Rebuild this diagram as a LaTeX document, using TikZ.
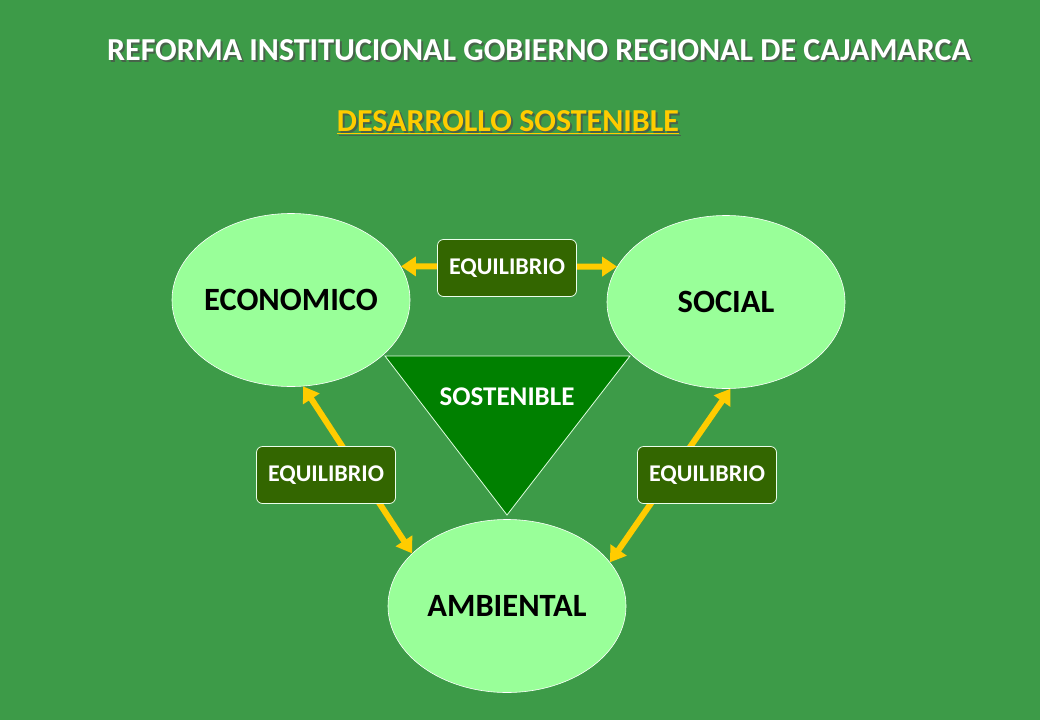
\documentclass[tikz,border=0pt]{standalone}
\usepackage{fontspec}
\setmainfont{Carlito}
\usepackage{xcolor}
\usetikzlibrary{shapes.geometric,arrows.meta}

\definecolor{bggreen}{HTML}{3D9B48}
\definecolor{lightgreen}{HTML}{99FF99}
\definecolor{darkgreen}{HTML}{008000}
\definecolor{boxgreen}{HTML}{336600}
\definecolor{arrowyellow}{HTML}{FFCC00}

\begin{document}
\begin{tikzpicture}[x=1pt, y=-1pt,
    area/.style={ellipse, draw=white, line width=0.6pt, fill=lightgreen,
        minimum width=238pt, minimum height=173pt, inner sep=0pt,
        font=\fontsize{32.5}{38}\selectfont\bfseries},
    balance/.style={rectangle, rounded corners=6pt, draw=white!80!lightgreen,
        line width=0.8pt, fill=boxgreen, text=white, minimum width=139pt,
        minimum height=57pt, font=\fontsize{24}{28}\selectfont\bfseries},
    link/.style={draw=arrowyellow, line width=6pt,
        {Triangle[length=15pt, width=19pt]}-{Triangle[length=15pt, width=19pt]}}]

    % background and margins
    \fill[bggreen] (0,0) rectangle (1040,720);

    % titles
    \node[text=black!70, opacity=0.7, font=\fontsize{32}{38}\selectfont\bfseries] (titleshadow) at (541,52) {REFORMA INSTITUCIONAL GOBIERNO REGIONAL DE CAJAMARCA};
    \node[text=white, font=\fontsize{32}{38}\selectfont\bfseries] (title) at (539,50) {REFORMA INSTITUCIONAL GOBIERNO REGIONAL DE CAJAMARCA};
    \node[text=black!70, opacity=0.7, font=\fontsize{32}{38}\selectfont\bfseries] (subshadow) at (510,124) {\underline{DESARROLLO SOSTENIBLE}};
    \node[text=arrowyellow, font=\fontsize{32}{38}\selectfont\bfseries] (sub) at (508,122) {\underline{DESARROLLO SOSTENIBLE}};

    % triangle
    \draw[fill=darkgreen, draw=white!70!lightgreen, line width=0.8pt]
        (385,356) -- (630,356) -- (507,515) -- cycle;
    \node[text=white, font=\fontsize{27}{32}\selectfont\bfseries] (sost) at (507,397) {SOSTENIBLE};

    % dimensions
    \node[area] (eco) at (291,300) {\makebox[0pt]{ECONOMICO}};
    \node[area] (soc) at (726,302) {\makebox[0pt]{SOCIAL}};
    \node[area] (amb) at (507,606) {\makebox[0pt]{AMBIENTAL}};

    \path
        (eco.17) edge[link] (soc.162)
        (eco.-82) edge[link] (amb.151)
        (soc.-87) edge[link] (amb.23);

    \node[balance] (eqtop)   at (507,268) {EQUILIBRIO};
    \node[balance] (eqleft)  at (326,475) {EQUILIBRIO};
    \node[balance] (eqright) at (707,475) {EQUILIBRIO};
\end{tikzpicture}
\end{document}
